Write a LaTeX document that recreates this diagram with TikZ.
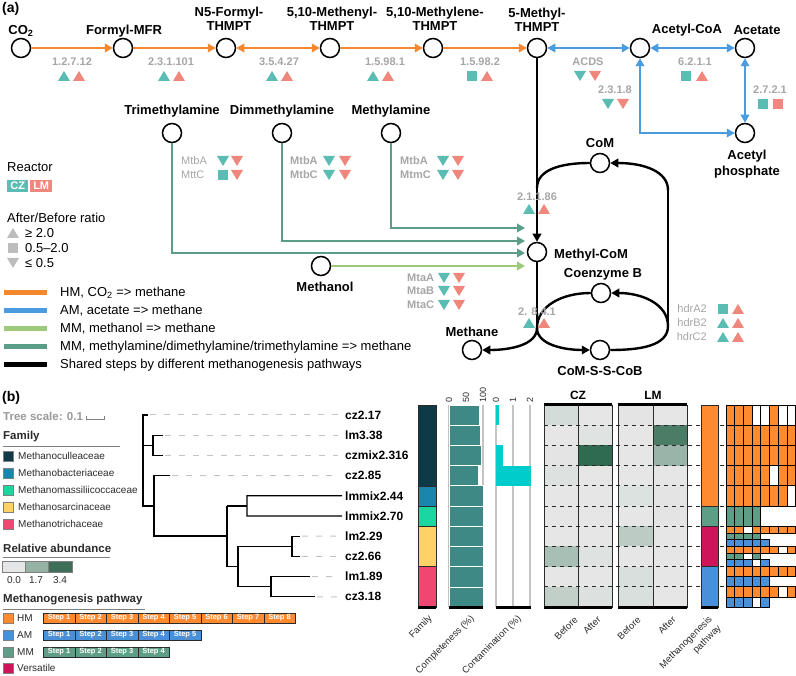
\documentclass[tikz,border=0pt]{standalone}
\usepackage{fontspec}
\setmainfont{Liberation Sans}
\usetikzlibrary{arrows.meta}
\definecolor{hmc}{HTML}{F5882F}
\definecolor{amc}{HTML}{4A9BDF}
\definecolor{mmoc}{HTML}{9DC97B}
\definecolor{mmtc}{HTML}{5A9E88}
\definecolor{czc}{HTML}{5BBCB3}
\definecolor{lmc}{HTML}{F0877D}
\definecolor{enzg}{HTML}{A6A6A6}
\definecolor{legg}{HTML}{BDBDBD}
\definecolor{fam1}{HTML}{0E3A48}
\definecolor{fam2}{HTML}{1A86AF}
\definecolor{fam3}{HTML}{1BD79F}
\definecolor{fam4}{HTML}{FFD166}
\definecolor{fam5}{HTML}{EF476F}
\definecolor{phm}{HTML}{FF8A2F}
\definecolor{pam}{HTML}{4A90D9}
\definecolor{pmm}{HTML}{5E9E86}
\definecolor{pvs}{HTML}{D0145A}
\definecolor{compc}{HTML}{3E8985}
\definecolor{contc}{HTML}{00CCCC}
\definecolor{gridg}{HTML}{C4C4C4}
\definecolor{dk}{HTML}{2B2B2B}
\newcommand\gridrow[4]{%
  \foreach \v [count=\k from 0] in {#4}{%
    \ifnum\v=1 \def\cc{#3}\else\def\cc{white}\fi
    \filldraw[fill=\cc,draw=black,line width=0.8pt] ({726+\k*8.7},#1) rectangle ({726+(\k+1)*8.7},{#1+#2});
  }}
\begin{document}
\begin{tikzpicture}[x=1pt,y=-1pt,>={Triangle[length=8pt,width=8.5pt]},
  met/.style={circle,draw,line width=1.5pt,minimum size=19pt,inner sep=0pt,fill=white},
  lbl/.style={font=\bfseries\fontsize{13}{14}\selectfont,align=center,inner sep=0pt},
  enz/.style={font=\bfseries\fontsize{11}{12}\selectfont,text=enzg,inner sep=0pt},
  enzr/.style={font=\fontsize{11}{12}\selectfont,text=enzg,inner sep=0pt},
  hm/.style={draw=hmc,line width=2.4pt},
  am/.style={draw=amc,line width=2.4pt},
  mmo/.style={draw=mmoc,line width=2.4pt},
  mmt/.style={draw=mmtc,line width=2.4pt},
  sh/.style={draw=black,line width=2.4pt},
  leg/.style={font=\fontsize{13}{15}\selectfont,anchor=west,inner sep=0pt},
  head/.style={font=\bfseries\fontsize{11.5}{13}\selectfont,anchor=west,inner sep=0pt,text=dk},
  small/.style={font=\fontsize{10}{12}\selectfont,anchor=west,inner sep=0pt,text=dk},
  leaf/.style={font=\bfseries\fontsize{12}{14}\selectfont,anchor=west,inner sep=0pt},
  tree/.style={draw=black,line width=1.2pt},
  lead/.style={draw=gridg,line width=1pt,dash pattern=on 6pt off 8pt},
  rot/.style={font=\fontsize{9.5}{11}\selectfont,rotate=45,anchor=east,inner sep=0pt,text=dk},
  tick/.style={font=\fontsize{9}{10}\selectfont,rotate=90,anchor=west,inner sep=0pt,text=dk},
  stepb/.style={font=\bfseries\fontsize{7.5}{8}\selectfont,text=white,draw=dk,line width=0.6pt,minimum width=31.5pt,minimum height=10pt,inner sep=0pt,anchor=west},
  pics/tu/.style={code={\fill[#1] (-6,5) -- (6,5) -- (0,-5) -- cycle;}},
  pics/td/.style={code={\fill[#1] (-6,-5) -- (6,-5) -- (0,5) -- cycle;}},
  pics/ts/.style={code={\fill[#1] (-5,-5) rectangle (5,5);}}]
\useasboundingbox (0,0) rectangle (796,676);

%================ (a) =================
\node[font=\bfseries\fontsize{14}{16}\selectfont,anchor=west,inner sep=0pt] (pa) at (2,9) {(a)};

% metabolites
\node[met] (co2) at (21,48) {};
\node[met] (fmfr) at (123,48) {};
\node[met] (n5) at (226,48) {};
\node[met] (menyl) at (330,48) {};
\node[met] (mlene) at (433,48) {};
\node[met] (methyl) at (537,48) {};
\node[met] (acoa) at (640,48) {};
\node[met] (acetate) at (745,48) {};
\node[met] (ap) at (745,133) {};
\node[met] (tma) at (172,133) {};
\node[met] (dma) at (282,133) {};
\node[met] (ma) at (391,133) {};
\node[met] (meoh) at (321,266) {};
\node[met] (mcom) at (537,252) {};
\node[met] (com) at (600,163) {};
\node[met] (cob) at (601,293) {};
\node[met] (cssc) at (600,350) {};
\node[met] (methane) at (472,350) {};

% metabolite labels
\node[lbl] (lco2) at (21,31) {CO\textsubscript{2}};
\node[lbl] (lfmfr) at (124,31) {Formyl-MFR};
\node[lbl] (ln5) at (229,19) {N5-Formyl-\\THMPT};
\node[lbl] (lmenyl) at (332,19) {5,10-Methenyl-\\THMPT};
\node[lbl] (lmlene) at (435,19) {5,10-Methylene-\\THMPT};
\node[lbl] (lmethyl) at (537,20) {5-Methyl-\\THMPT};
\node[lbl] (lacoa) at (687,30) {Acetyl-CoA};
\node[lbl] (lacetate) at (757,30) {Acetate};
\node[lbl,font=\bfseries\fontsize{13}{16}\selectfont] (lap) at (747,164) {Acetyl\\phosphate};
\node[lbl] (ltma) at (172,111) {Trimethylamine};
\node[lbl] (ldma) at (282,111) {Dimmethylamine};
\node[lbl] (lma) at (391,111) {Methylamine};
\node[lbl] (lmeoh) at (325,287) {Methanol};
\node[lbl,anchor=west] (lmcom) at (554,255) {Methyl-CoM};
\node[lbl] (lcom) at (600,143) {CoM};
\node[lbl] (lcob) at (603,274) {Coenzyme B};
\node[lbl] (lcssc) at (600,371) {CoM-S-S-CoB};
\node[lbl] (lmethane) at (472,332) {Methane};

% HM pathway
\draw[hm,->] (co2) -- (fmfr);
\draw[hm,->] (fmfr) -- (n5);
\draw[hm,<->] (n5) -- (menyl);
\draw[hm,->] (menyl) -- (mlene);
\draw[hm,->] (mlene) -- (methyl);
% AM pathway
\draw[am,<->] (methyl) -- (acoa);
\draw[am,<->] (acoa) -- (acetate);
\draw[am,<->] (acoa) |- (ap);
\draw[am,<->] (acetate) -- (ap);
% MM pathways
\coordinate (maE) at (525,228);
\coordinate (dmaE) at (525,241);
\coordinate (tmaE) at (525,253);
\coordinate (meohE) at (525,266);
\draw[mmt,->] (ma.south) |- (maE);
\draw[mmt,->] (dma.south) |- (dmaE);
\draw[mmt,->] (tma.south) |- (tmaE);
\draw[mmo,->] (meoh) -- (meohE);
% shared steps
\coordinate (jA) at (537,188);
\coordinate (jB) at (537,328);
\coordinate (rT) at (668,190);
\coordinate (rB) at (668,326);
\draw[sh,->] (methyl) -- (mcom);
\draw[sh] (mcom) -- (jB);
\draw[sh] (jA) .. controls (537,170) and (560,163) .. (com.west);
\draw[sh,->] (rT) .. controls (668,172) and (645,163) .. (com.east);
\draw[sh] (rT) -- (rB);
\draw[sh,->] (rB) .. controls (668,304) and (642,293) .. (cob.east);
\draw[sh] (jB) .. controls (537,306) and (562,293) .. (cob.west);
\draw[sh,->] (jB) .. controls (537,345) and (510,350) .. (methane.east);
\draw[sh,->] (jB) .. controls (537,345) and (565,350) .. (cssc.west);
\draw[sh] (cssc.east) .. controls (640,350) and (668,346) .. (rB);

% enzymes
\node[enz] (e1) at (72,62) {1.2.7.12};
\pic at (64,76) {tu=czc}; \pic at (79,76) {tu=lmc};
\node[enz] (e2) at (171,62) {2.3.1.101};
\pic at (164,76) {tu=czc}; \pic at (179,76) {tu=lmc};
\node[enz] (e3) at (279,62) {3.5.4.27};
\pic at (272,76) {tu=czc}; \pic at (287,76) {tu=lmc};
\node[enz] (e4) at (385,62) {1.5.98.1};
\pic at (373,76) {tu=czc}; \pic at (388,76) {tu=lmc};
\node[enz] (e5) at (480,62) {1.5.98.2};
\pic at (472,76) {ts=czc}; \pic at (487,76) {tu=lmc};
\node[enz] (e6) at (588,62) {ACDS};
\pic at (580,76) {td=czc}; \pic at (595,76) {td=lmc};
\node[enz] (e7) at (615,90) {2.3.1.8};
\pic at (608,104) {td=czc}; \pic at (623,104) {td=lmc};
\node[enz] (e8) at (695,62) {6.2.1.1};
\pic at (686,76) {ts=czc}; \pic at (702,76) {tu=lmc};
\node[enz] (e9) at (770,90) {2.7.2.1};
\pic at (763,104) {ts=czc}; \pic at (778,104) {ts=lmc};
\node[enz] (e10) at (537,197) {2.1.1.86};
\pic at (529,209) {tu=czc}; \pic at (544,209) {tu=lmc};
\node[enz] (e11) at (537,312) {2. 8.4.1};
\pic at (529,323) {tu=czc}; \pic at (544,323) {tu=lmc};
\node[enzr,anchor=east] (hA) at (707,309) {hdrA2};
\pic at (723,309) {ts=czc}; \pic at (738,309) {tu=lmc};
\node[enzr,anchor=east] (hB) at (707,323) {hdrB2};
\pic at (723,323) {tu=czc}; \pic at (738,323) {tu=lmc};
\node[enzr,anchor=east] (hC) at (707,337) {hdrC2};
\pic at (723,337) {tu=czc}; \pic at (738,337) {tu=lmc};
% methylamine enzymes
\node[enzr,anchor=west] (t1) at (181,161) {MtbA};
\node[enzr,anchor=west] (t2) at (181,175) {MttC};
\pic at (223,161) {td=czc}; \pic at (237,161) {td=lmc};
\pic at (223,175) {ts=czc}; \pic at (237,175) {td=lmc};
\node[enz,anchor=west] (d1) at (290,161) {MtbA};
\node[enz,anchor=west] (d2) at (290,175) {MtbC};
\pic at (329,161) {td=czc}; \pic at (345,161) {td=lmc};
\pic at (329,175) {td=czc}; \pic at (345,175) {td=lmc};
\node[enz,anchor=west] (m1) at (400,161) {MtbA};
\node[enz,anchor=west] (m2) at (400,175) {MtmC};
\pic at (443,161) {td=czc}; \pic at (458,161) {td=lmc};
\pic at (443,175) {td=czc}; \pic at (458,175) {td=lmc};
\node[enz,anchor=west] (o1) at (407,278) {MtaA};
\node[enz,anchor=west] (o2) at (407,291) {MtaB};
\node[enz,anchor=west] (o3) at (407,305) {MtaC};
\pic at (444,278) {td=czc}; \pic at (459,278) {td=lmc};
\pic at (444,291) {td=czc}; \pic at (459,291) {td=lmc};
\pic at (444,305) {td=czc}; \pic at (459,305) {td=lmc};

% legend (a)
\node[leg] (lreac) at (7,167) {Reactor};
\node[fill=czc,text=white,font=\bfseries\fontsize{11}{12}\selectfont,minimum width=21pt,minimum height=12pt,inner sep=0pt,anchor=west] (bcz) at (7,186) {CZ};
\node[fill=lmc,text=white,font=\bfseries\fontsize{11}{12}\selectfont,minimum width=22pt,minimum height=12pt,inner sep=0pt,anchor=west] (blm) at (30,186) {LM};
\node[leg] (lratio) at (7,218) {After/Before ratio};
\pic at (13,233) {tu=legg}; \node[leg] (r1) at (25,233) {≥ 2.0};
\pic at (13,248) {ts=legg}; \node[leg] (r2) at (25,248) {0.5–2.0};
\pic at (13,263) {td=legg}; \node[leg] (r3) at (25,263) {≤ 0.5};
\draw[draw=hmc,line width=5pt] (4,293) -- (47,293);
\draw[draw=amc,line width=5pt] (4,311) -- (47,311);
\draw[draw=mmoc,line width=5pt] (4,329) -- (47,329);
\draw[draw=mmtc,line width=5pt] (4,347) -- (47,347);
\draw[draw=black,line width=5pt] (4,365) -- (47,365);
\node[leg] (g1) at (60,293) {HM, CO\textsubscript{2} => methane};
\node[leg] (g2) at (60,311) {AM, acetate => methane};
\node[leg] (g3) at (60,329) {MM, methanol => methane};
\node[leg] (g4) at (60,347) {MM, methylamine/dimethylamine/trimethylamine => methane};
\node[leg] (g5) at (60,365) {Shared steps by different methanogenesis pathways};

%================ (b) =================
\node[font=\bfseries\fontsize{14}{16}\selectfont,anchor=west,inner sep=0pt] (pb) at (2,398) {(b)};
\node[head,text=gray!80] (tsc) at (3,416) {Tree scale: 0.1};
\draw[gray,line width=0.9pt] (86,416) -- (86,419) -- (104,419) -- (104,416);

\node[head] (hfam) at (3,437) {Family};
\draw[gray,line width=0.9pt] (3,446) -- (120,446);
\foreach \c/\t [count=\i from 0] in {fam1/Methanoculleaceae,fam2/Methanobacteriaceae,fam3/Methanomassiliicoccaceae,fam4/Methanosarcinaceae,fam5/Methanotrichaceae}{
  \filldraw[fill=\c,draw=gray,line width=0.6pt] (3,{451+\i*17}) rectangle (13,{461+\i*17});
  \node[small] at (18,{456+\i*17}) {\t};
}
\node[head] (hra) at (3,548) {Relative abundance};
\draw[gray,line width=0.9pt] (3,557) -- (110,557);
\filldraw[fill={rgb,255:red,228;green,230;blue,232},draw=gray,line width=0.6pt] (2,561) rectangle (25,572);
\filldraw[fill={rgb,255:red,149;green,178;blue,165},draw=gray,line width=0.6pt] (25,561) rectangle (48,572);
\filldraw[fill={rgb,255:red,61;green,110;blue,88},draw=gray,line width=0.6pt] (48,561) rectangle (72,572);
\node[small,anchor=center] at (14,580) {0.0};
\node[small,anchor=center] at (36,580) {1.7};
\node[small,anchor=center] at (60,580) {3.4};

\node[head] (hmp) at (3,600) {Methanogenesis pathway};
\draw[gray,line width=0.9pt] (3,609) -- (145,609);
\filldraw[fill=phm,draw=gray,line width=0.6pt] (3,613) rectangle (13,623);
\node[small] at (17,618) {HM};
\filldraw[fill=pam,draw=gray,line width=0.6pt] (3,630) rectangle (13,640);
\node[small] at (17,635) {AM};
\filldraw[fill=pmm,draw=gray,line width=0.6pt] (3,647) rectangle (13,657);
\node[small] at (17,652) {MM};
\filldraw[fill=pvs,draw=gray,line width=0.6pt] (3,663) rectangle (13,673);
\node[small] at (17,668) {Versatile};
\foreach \k in {1,...,8}{\node[stepb,fill=phm] at ({43+(\k-1)*31.5},618) {Step \k};}
\foreach \k in {1,...,5}{\node[stepb,fill=pam] at ({43+(\k-1)*31.5},635) {Step \k};}
\foreach \k in {1,...,4}{\node[stepb,fill=pmm] at ({43+(\k-1)*31.5},652) {Step \k};}

% tree leaves
\foreach \nm/\t [count=\i from 0] in {l0/cz2.17,l1/lm3.38,l2/czmix2.316,l3/cz2.85,l4/lmmix2.44,l5/lmmix2.70,l6/lm2.29,l7/cz2.66,l8/lm1.89,l9/cz3.18}{
  \node[leaf] (\nm) at (345,{415+\i*20.2}) {\t};
}
% leaders
\draw[lead] (150,415) -- ([xshift=-7pt]l0.west);
\draw[lead] (165,435.2) -- ([xshift=-7pt]l1.west);
\draw[lead] (165,455.4) -- ([xshift=-7pt]l2.west);
\draw[lead] (172,475.6) -- ([xshift=-7pt]l3.west);
\draw[lead] (302,536.2) -- ([xshift=-7pt]l6.west);
\draw[lead] (302,556.4) -- ([xshift=-7pt]l7.west);
\draw[lead] (312,576.6) -- ([xshift=-7pt]l8.west);
\draw[lead] (317,596.8) -- ([xshift=-7pt]l9.west);
% branches
\draw[tree] (148,415) -- (143,415) -- (143,506) -- (154,506);
\draw[tree] (143,445.3) -- (153,445.3);
\draw[tree] (163,435.2) -- (153,435.2) -- (153,455.4) -- (163,455.4);
\draw[tree] (170,475.6) -- (154,475.6) -- (154,536) -- (227,536);
\draw[tree] (227,505.9) -- (227,566.5);
\draw[tree] (227,505.9) -- (247,505.9);
\draw[tree] ([xshift=-3pt]l4.west) -| (247,516) -- ([xshift=-3pt]l5.west);
\draw[tree] (227,566.5) -- (238,566.5);
\draw[tree] (238,546.3) -- (238,586.7);
\draw[tree] (238,546.3) -- (292,546.3);
\draw[tree] (300,536.2) -- (292,536.2) -- (292,556.4) -- (300,556.4);
\draw[tree] (238,586.7) -- (271,586.7);
\draw[tree] (310,576.6) -- (271,576.6) -- (271,596.8) -- (315,596.8);

% family column
\filldraw[fill=fam1,draw=dk,line width=0.5pt] (418,405) rectangle (436,485.8);
\filldraw[fill=fam2,draw=dk,line width=0.5pt] (418,485.8) rectangle (436,506);
\filldraw[fill=fam3,draw=dk,line width=0.5pt] (418,506) rectangle (436,526.2);
\filldraw[fill=fam4,draw=dk,line width=0.5pt] (418,526.2) rectangle (436,566.6);
\filldraw[fill=fam5,draw=dk,line width=0.5pt] (418,566.6) rectangle (436,607);

% completeness
\foreach \x in {449,466,483}{\draw[gridg,line width=1.3pt] (\x,405) -- (\x,607);}
\foreach \v [count=\i from 0] in {479,480,481,478,483,483,483,483,483,483}{
  \filldraw[fill=compc,draw=white,line width=0.6pt] (449,{405+\i*20.2}) rectangle (\v,{405+(\i+1)*20.2});
}
\node[tick] at (449,403) {0};
\node[tick] at (466,403) {50};
\node[tick] at (483,403) {100};

% contamination
\foreach \x in {496,513,530}{\draw[gridg,line width=1.3pt] (\x,405) -- (\x,607);}
\fill[contc] (496,405) rectangle (499,425.2);
\fill[contc] (496,445.4) rectangle (503,465.6);
\fill[contc] (496,465.6) rectangle (531,485.8);
\node[tick] at (496,403) {0};
\node[tick] at (513,403) {1};
\node[tick] at (530,403) {2};

% heatmap
\foreach \c [count=\i from 0] in {D4DCD9,E6E6E6,E4E4E4,DDE2E0,E6E6E6,E6E6E6,E6E6E6,A8BFB5,E6E6E6,C2CFC9}{
  \definecolor{tmpc}{HTML}{\c}\fill[tmpc] (544,{405+\i*20.2}) rectangle (578,{405+(\i+1)*20.2});}
\foreach \c [count=\i from 0] in {E6E6E6,DFE3E1,2F6B50,E6E6E6,E6E6E6,E6E6E6,E6E6E6,DEE2E0,E6E6E6,DCE0DE}{
  \definecolor{tmpc}{HTML}{\c}\fill[tmpc] (578,{405+\i*20.2}) rectangle (612,{405+(\i+1)*20.2});}
\foreach \c [count=\i from 0] in {E4E4E4,E6E6E6,E6E6E6,E6E6E6,DCE2E0,E6E6E6,BCCCC4,E6E6E6,D9DFDC,D9DFDC}{
  \definecolor{tmpc}{HTML}{\c}\fill[tmpc] (618,{405+\i*20.2}) rectangle (653,{405+(\i+1)*20.2});}
\foreach \c [count=\i from 0] in {E6E6E6,4B7D66,9BB4A9,E6E6E6,E4E4E4,E4E4E4,E6E6E6,E6E6E6,E6E6E6,E6E6E6}{
  \definecolor{tmpc}{HTML}{\c}\fill[tmpc] (653,{405+\i*20.2}) rectangle (687,{405+(\i+1)*20.2});}
\foreach \i in {1,...,9}{\draw[dk,line width=0.8pt,dash pattern=on 4pt off 4pt] (544,{405+\i*20.2}) -- (726,{405+\i*20.2});}
\draw[dk,line width=0.7pt] (544,405) rectangle (612,607) (578,405) -- (578,607);
\draw[dk,line width=0.7pt] (618,405) rectangle (687,607) (653,405) -- (653,607);
\draw[black,line width=3pt] (544,404.5) -- (612,404.5) (618,404.5) -- (687,404.5);
\node[lbl,font=\bfseries\fontsize{12}{13}\selectfont] (hcz) at (578,395) {CZ};
\node[lbl,font=\bfseries\fontsize{12}{13}\selectfont] (hlm) at (653,395) {LM};

% pathway column
\filldraw[fill=phm,draw=dk,line width=0.5pt] (701,405) rectangle (718,506);
\filldraw[fill=pmm,draw=dk,line width=0.5pt] (701,506) rectangle (718,526.2);
\filldraw[fill=pvs,draw=dk,line width=0.5pt] (701,526.2) rectangle (718,566.6);
\filldraw[fill=pam,draw=dk,line width=0.5pt] (701,566.6) rectangle (718,607);

% bottom black bars
\draw[black,line width=3pt] (418,607.5) -- (436,607.5) (449,607.5) -- (483,607.5) (496,607.5) -- (531,607.5)
  (544,607.5) -- (612,607.5) (618,607.5) -- (687,607.5) (701,607.5) -- (718,607.5);

% pathway steps grid
\gridrow{405}{20.2}{phm}{1,1,1,0,0,1,0,0}
\gridrow{425.2}{20.2}{phm}{1,1,1,1,1,1,1,1}
\gridrow{445.4}{20.2}{phm}{1,1,1,1,1,1,1,1}
\gridrow{465.6}{20.2}{phm}{1,1,1,1,1,0,1,1}
\gridrow{485.8}{20.2}{phm}{1,1,1,1,1,1,1,0}
\gridrow{506}{20.2}{pmm}{1,1,1,1}
\gridrow{526.2}{6.73}{phm}{1,1,0,1,1,1,1,1}
\gridrow{532.93}{6.73}{pmm}{1,1,1,1}
\gridrow{539.67}{6.73}{pam}{1,1,1,1,1}
\gridrow{546.4}{6.73}{phm}{1,1,1,1,1,1,0,1}
\gridrow{553.13}{6.73}{pmm}{1,1,0,1}
\gridrow{559.87}{6.73}{pam}{1,1,1,0,1}
\gridrow{566.6}{10.1}{phm}{1,1,1,1,1,1,1,1}
\gridrow{576.7}{10.1}{pam}{1,1,1,1,1}
\gridrow{586.8}{10.1}{phm}{1,1,1,1,1,1,0,1}
\gridrow{596.9}{10.1}{pam}{1,1,1,0,1}

% rotated column labels
\node[rot] at (431,617) {Family};
\node[rot] at (473,617) {Completeness (\%)};
\node[rot] at (520,617) {Contamination (\%)};
\node[rot] at (576,618) {Before};
\node[rot] at (599,618) {After};
\node[rot] at (639,618) {Before};
\node[rot] at (674,618) {After};
\node[rot] at (711,618) {Methanogenesis};
\node[rot] at (720,627) {pathway};
\end{tikzpicture}
\end{document}
